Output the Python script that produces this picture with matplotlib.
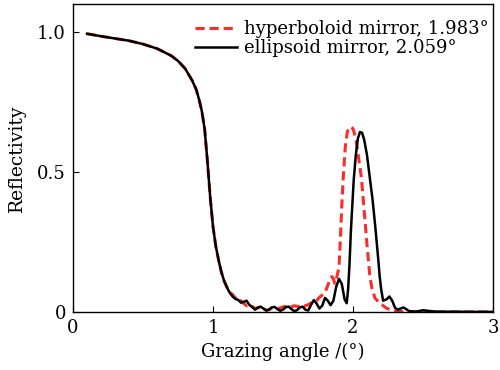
import matplotlib
matplotlib.use("Agg")
import matplotlib.pyplot as plt

# ellipsoid mirror (black solid)
ell_x = [0.10, 0.20, 0.30, 0.40, 0.50, 0.60, 0.70, 0.75, 0.80, 0.85, 0.88, 0.90, 0.92, 0.94,
         0.96, 0.98, 1.00, 1.02, 1.04, 1.06, 1.08, 1.10, 1.12, 1.14, 1.16, 1.18, 1.20, 1.22,
         1.24, 1.26, 1.28, 1.30, 1.32, 1.34, 1.36, 1.38, 1.40, 1.42, 1.44, 1.46, 1.48, 1.50,
         1.52, 1.54, 1.56, 1.58, 1.60, 1.62, 1.64, 1.66, 1.68, 1.70, 1.72, 1.74, 1.76, 1.78,
         1.80, 1.82, 1.84, 1.86, 1.88, 1.90, 1.92, 1.94, 1.955, 1.965, 1.975, 1.985, 1.995,
         2.005, 2.02, 2.035, 2.05, 2.065, 2.08, 2.10, 2.12, 2.14, 2.16, 2.18, 2.19, 2.20, 2.215,
         2.24, 2.26, 2.28, 2.30, 2.32, 2.34, 2.36, 2.38, 2.40, 2.45, 2.50, 2.55, 2.60, 3.00]
ell_y = [0.994, 0.985, 0.977, 0.969, 0.957, 0.941, 0.916, 0.897, 0.870, 0.828, 0.795, 0.760, 0.718, 0.655,
         0.540, 0.410, 0.305, 0.235, 0.185, 0.142, 0.110, 0.087, 0.068, 0.055, 0.046, 0.043, 0.033, 0.036,
         0.040, 0.025, 0.017, 0.008, 0.015, 0.019, 0.012, 0.005, 0.008, 0.016, 0.018, 0.010, 0.004, 0.008,
         0.017, 0.019, 0.010, 0.003, 0.006, 0.016, 0.019, 0.008, 0.005, 0.025, 0.042, 0.030, 0.012, 0.022,
         0.050, 0.040, 0.024, 0.040, 0.090, 0.118, 0.100, 0.045, 0.031, 0.080, 0.170, 0.290, 0.380,
         0.470, 0.560, 0.620, 0.643, 0.640, 0.615, 0.560, 0.480, 0.400, 0.300, 0.190, 0.130, 0.085, 0.040,
         0.045, 0.055, 0.040, 0.015, 0.008, 0.012, 0.016, 0.010, 0.003, 0.001, 0.006, 0.003, 0.001, 0.000]

# hyperboloid mirror (red dashed)
hyp_x = [0.10, 0.20, 0.30, 0.40, 0.50, 0.60, 0.70, 0.75, 0.80, 0.85, 0.88, 0.90, 0.92, 0.94,
         0.96, 0.98, 1.00, 1.02, 1.04, 1.06, 1.08, 1.10, 1.12, 1.14, 1.16, 1.18, 1.20, 1.22,
         1.24, 1.26, 1.28, 1.30, 1.32, 1.34, 1.36, 1.38, 1.40, 1.42, 1.44, 1.46, 1.48, 1.50,
         1.52, 1.54, 1.56, 1.58, 1.60, 1.62, 1.64, 1.66, 1.68, 1.70, 1.72, 1.74, 1.76, 1.78,
         1.80, 1.82, 1.84, 1.85, 1.86, 1.87, 1.88, 1.90, 1.91, 1.92, 1.93, 1.945, 1.96, 1.98,
         2.00, 2.02, 2.04, 2.06, 2.08, 2.10, 2.12, 2.135, 2.157, 2.193, 2.24, 2.29, 2.40, 3.00]
hyp_y = [0.994, 0.985, 0.977, 0.969, 0.957, 0.941, 0.916, 0.897, 0.870, 0.828, 0.795, 0.760, 0.718, 0.655,
         0.540, 0.410, 0.305, 0.235, 0.185, 0.142, 0.110, 0.088, 0.070, 0.062, 0.050, 0.038, 0.040, 0.030,
         0.022, 0.026, 0.020, 0.012, 0.015, 0.018, 0.012, 0.006, 0.008, 0.014, 0.016, 0.012, 0.014, 0.018,
         0.020, 0.017, 0.018, 0.022, 0.020, 0.020, 0.024, 0.022, 0.026, 0.032, 0.030, 0.040, 0.052, 0.060,
         0.070, 0.095, 0.122, 0.126, 0.118, 0.102, 0.115, 0.160, 0.260, 0.380, 0.480, 0.590, 0.645, 0.662,
         0.655, 0.620, 0.550, 0.480, 0.360, 0.240, 0.130, 0.085, 0.049, 0.031, 0.013, 0.003, 0.000, 0.000]

x_ticks = [0, 1, 2, 3]
x_labels = ["0", "1", "2", "3"]
y_ticks = [0, 0.5, 1.0]
y_labels = ["0", "0.5", "1.0"]

plt.rcParams['font.family'] = ['DejaVu Serif']
plt.rcParams['mathtext.fontset'] = 'dejavuserif'

fig = plt.figure(figsize=(5, 3.7), dpi=100)
ax = fig.add_axes([0.146, 0.157, 0.840, 0.832])

ax.plot(hyp_x, hyp_y, color='#ff2a2a', linestyle=(0, (3.0, 1.6)), linewidth=2.2,
        label='hyperboloid mirror, 1.983°')
ax.plot(ell_x, ell_y, color='black', linewidth=1.8, label='ellipsoid mirror, 2.059°')

ax.set_xlim(0, 3)
ax.set_ylim(0, 1.1)
ax.set_xticks(x_ticks)
ax.set_xticklabels(x_labels)
ax.set_yticks(y_ticks)
ax.set_yticklabels(y_labels)
ax.tick_params(direction='in', length=4, width=0.8, labelsize=13, top=False, right=False, pad=5)
ax.set_xlabel('Grazing angle /(°)', fontsize=13, labelpad=4)
ax.set_ylabel('Reflectivity', fontsize=13.5, labelpad=8)
for s in ax.spines.values():
    s.set_linewidth(1.0)

ax.legend(loc='upper right', frameon=False, fontsize=13, handlelength=2.3,
          borderaxespad=0.15, labelspacing=0.05, handletextpad=0.4,
          bbox_to_anchor=(1.014, 0.98))

fig.savefig('out.png', dpi=100)
